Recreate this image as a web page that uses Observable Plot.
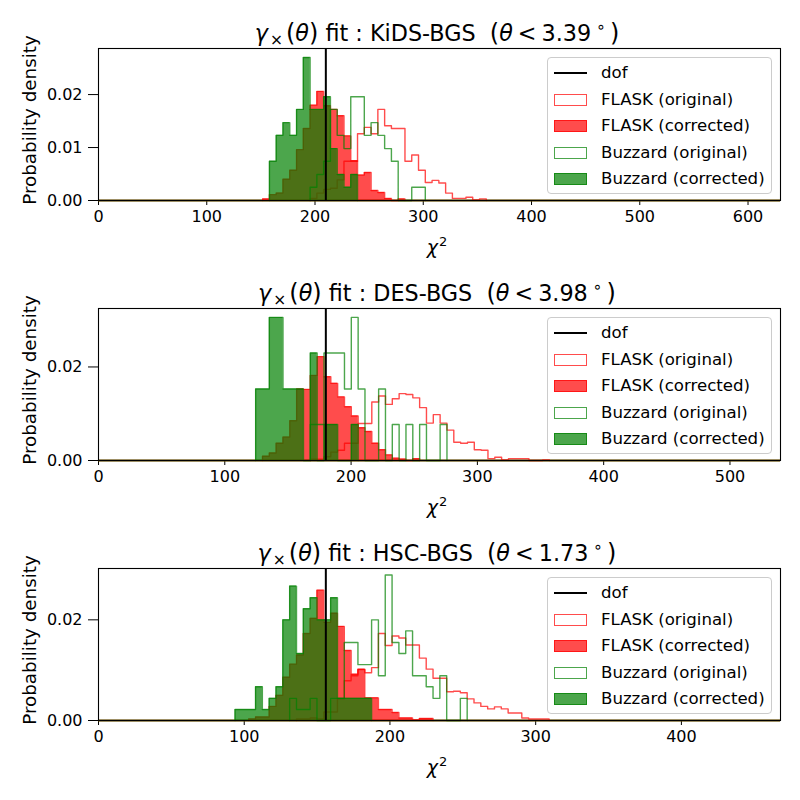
<!DOCTYPE html>
<html><head><meta charset="utf-8">
<script src="https://cdn.jsdelivr.net/npm/d3@7"></script>
<script src="https://cdn.jsdelivr.net/npm/@observablehq/plot@0.6"></script>
<style>
body{margin:0;background:#fff;font-family:"DejaVu Sans",sans-serif;}
#fig{position:relative;width:800px;height:800px;overflow:hidden;}
.panel{position:absolute;left:0;width:800px;height:260px;}
.panel svg{position:absolute;left:0;top:0;}
.title{position:absolute;left:96px;width:682px;top:20px;text-align:center;font-size:22.3px;line-height:26px;white-space:pre;color:#000;}
.m{font-style:italic;}
.p{font-size:24px;}
.sub{font-size:15.5px;position:relative;top:4px;margin-left:2px;margin-right:3px;}
.sup{font-size:15.5px;position:relative;top:-9px;margin-left:5px;margin-right:4px;}
.rel{margin:0 5px;}
.xlabel{position:absolute;left:96px;width:682px;top:236px;text-align:center;font-size:19px;line-height:22px;}
.xlabel .sup2{font-size:13px;position:relative;top:-8px;margin-left:1px;}
.ylabel{position:absolute;left:29px;top:120px;font-size:18.3px;white-space:nowrap;transform:translate(-50%,-50%) rotate(-90deg);}
.legend{position:absolute;left:547px;top:57px;width:225px;height:137px;border:1px solid #cccccc;border-radius:4px;background:rgba(255,255,255,0.8);box-sizing:border-box;}
.li{position:absolute;left:0;height:20px;width:223px;}
.li .h{position:absolute;left:6px;width:33px;}
.li .t{position:absolute;left:53px;top:0;font-size:16.6px;line-height:20px;white-space:nowrap;}
</style></head><body><div id="fig"></div>
<script>
// ---------- data ----------
const datasets = ["KiDS-BGS", "DES-BGS", "HSC-BGS"];
const thetaMax = ["3.39", "3.98", "1.73"];
const dof = [210, 180, 156];
const xMax = [630, 540, 468];
const yMax = [0.0287, 0.0325, 0.0302];
const xTicks = [[0,100,200,300,400,500,600],[0,100,200,300,400,500],[0,100,200,300,400]];
const yTicks = [[0,0.01,0.02],[0,0.02],[0,0.02]];
const binOrigin = [1.4, 0, 0];
const binWidth = [6.26, 5.41, 4.685];
const legendLabels = ["dof","FLASK (original)","FLASK (corrected)","Buzzard (original)","Buzzard (corrected)"];

// KiDS-BGS (first bin index, densities)
const kidsFlaskOrigStart = 31;
const kidsFlaskOrig = [0.0004,0.0014,0.0021,0.0023,0.0039,0.0074,0.0074,0.0126,0.0138,0.0126,0.0172,0.0141,0.0136,0.0136,0.0074,0.0086,0.0057,0.0034,0.0038,0.0033,0.0014,0.0004,0.0004,0.0006,0.0001,0.0003];
const kidsFlaskCorrStart = 24;
const kidsFlaskCorr = [0.0003,0.0011,0.0014,0.0040,0.0057,0.0096,0.0136,0.0180,0.0206,0.0179,0.0172,0.0160,0.0122,0.0075,0.0048,0.0053,0.0019,0.0015,0.0004,0,0.0003];
const kidsBuzzOrigStart = 31;
const kidsBuzzOrig = [0.0025,0.0049,0.0074,0.0172,0.0123,0.0098,0.0196,0.0196,0.0123,0.0147,0.0123,0.0098,0.0074,0,0,0.0025,0.0025];
const kidsBuzzCorrStart = 25;
const kidsBuzzCorr = [0.0074,0.0123,0.0147,0.0123,0.0172,0.0270,0.0172,0.0172,0.0196,0.0098,0.0049,0.0025,0.0049];

// DES-BGS
const desFlaskOrigStart = 31;
const desFlaskOrig = [0.0003,0.0003,0.0008,0.0018,0.0022,0.0037,0.0037,0.0079,0.0079,0.0125,0.0138,0.0120,0.0132,0.0143,0.0141,0.0134,0.0113,0.0080,0.0098,0.0080,0.0065,0.0039,0.0037,0.0039,0.0023,0.0022,0.0004,0.0007,0.0001,0.0004,0.0004,0.0004,0,0,0.0001];
const desFlaskCorrStart = 24;
const desFlaskCorr = [0.0009,0.0016,0.0037,0.0050,0.0085,0.0153,0.0152,0.0182,0.0222,0.0179,0.0165,0.0136,0.0115,0.0095,0.0070,0.0062,0.0037,0.0023,0.0012,0.0005,0.0003,0,0.0004];
const desBuzzOrigStart = 31;
const desBuzzOrig = [0.0077,0.0077,0.0230,0.0230,0.0230,0.0153,0.0306,0.0153,0,0,0.0153,0,0.0077,0,0.0077,0,0.0077,0,0,0.0077];
const desBuzzCorrStart = 23;
const desBuzzCorr = [0.0153,0.0153,0.0306,0.0306,0.0153,0.0153,0.0153,0,0.0230,0,0.0077,0.0077,0,0,0.0077];

// HSC-BGS
const hscFlaskOrigStart = 29;
const hscFlaskOrig = [0.0003,0.0003,0.0005,0.0003,0.0017,0.0017,0.0043,0.0079,0.0089,0.0101,0.0095,0.0105,0.0173,0.0149,0.0168,0.0164,0.0150,0.0150,0.0124,0.0102,0.0084,0.0084,0.0057,0.0058,0.0055,0.0043,0.0035,0.0028,0.0023,0.0027,0.0023,0.0015,0.0015,0.0005,0.0003,0.0003,0.0003];
const hscFlaskCorrStart = 22;
const hscFlaskCorr = [0.0003,0.0007,0.0007,0.0028,0.0050,0.0086,0.0112,0.0130,0.0173,0.0203,0.0259,0.0195,0.0213,0.0187,0.0139,0.0092,0.0102,0.0045,0.0045,0.0022,0.0022,0.0016,0.0005,0.0005,0.0001,0.0004,0.0004];
const hscBuzzOrigStart = 28;
const hscBuzzOrig = [0.0044,0.0022,0.0022,0.0044,0,0,0.0044,0.0044,0.0155,0.0155,0.0111,0.0111,0.0200,0.0089,0.0289,0.0155,0.0133,0.0178,0.0089,0.0089,0.0067,0.0044,0.0089,0,0,0.0044];
const hscBuzzCorrStart = 20;
const hscBuzzCorr = [0.0022,0.0022,0.0022,0.0067,0.0022,0.0044,0.0067,0.0200,0.0267,0.0133,0.0222,0.0244,0.0200,0.0200,0.0244,0.0044,0.0044,0.0044,0.0044,0.0044];

const panels = [
  {fo:[kidsFlaskOrigStart,kidsFlaskOrig], fc:[kidsFlaskCorrStart,kidsFlaskCorr], bo:[kidsBuzzOrigStart,kidsBuzzOrig], bc:[kidsBuzzCorrStart,kidsBuzzCorr]},
  {fo:[desFlaskOrigStart,desFlaskOrig], fc:[desFlaskCorrStart,desFlaskCorr], bo:[desBuzzOrigStart,desBuzzOrig], bc:[desBuzzCorrStart,desBuzzCorr]},
  {fo:[hscFlaskOrigStart,hscFlaskOrig], fc:[hscFlaskCorrStart,hscFlaskCorr], bo:[hscBuzzOrigStart,hscBuzzOrig], bc:[hscBuzzCorrStart,hscBuzzCorr]}
];

// ---------- drawing ----------
const RED = "#ff0000", GREEN = "#008000";
function steps(origin, width, start, heights) {
  const pts = [{x: origin + start * width, y: 0}];
  heights.forEach((h, i) => pts.push({x: origin + (start + i) * width, y: h}));
  pts.push({x: origin + (start + heights.length) * width, y: 0});
  return pts;
}

const fig = document.getElementById("fig");
panels.forEach((p, i) => {
  const o = binOrigin[i], w = binWidth[i];
  const fo = steps(o, w, ...p.fo), fc = steps(o, w, ...p.fc);
  const bo = steps(o, w, ...p.bo), bc = steps(o, w, ...p.bc);
  const div = document.createElement("div");
  div.className = "panel";
  div.style.top = (i * 260) + "px";
  fig.appendChild(div);
  const svg = Plot.plot({
    width: 800, height: 260,
    marginLeft: 98, marginRight: 20, marginTop: 48, marginBottom: 60,
    style: {fontFamily: "DejaVu Sans", fontSize: "16px", background: "transparent", color: "#000", overflow: "visible"},
    x: {domain: [0, xMax[i]], ticks: xTicks[i], tickFormat: d3.format("d"), tickSize: 5, tickPadding: 5, label: null},
    y: {domain: [0, yMax[i]], ticks: yTicks[i], tickFormat: d3.format(".2f"), tickSize: 10, tickPadding: 6, label: null},
    marks: [
      Plot.ruleY([0], {stroke: RED, strokeOpacity: 0.7, strokeWidth: 2}),
      Plot.ruleY([0], {stroke: GREEN, strokeOpacity: 0.7, strokeWidth: 2}),
      Plot.line(fo, {x: "x", y: "y", curve: "step-after", stroke: RED, strokeOpacity: 0.7, strokeWidth: 1.4}),
      Plot.areaY(fc, {x: "x", y: "y", curve: "step-after", fill: RED, fillOpacity: 0.7}),
      Plot.line(fc, {x: "x", y: "y", curve: "step-after", stroke: RED, strokeOpacity: 0.7, strokeWidth: 1.4}),
      Plot.line(bo, {x: "x", y: "y", curve: "step-after", stroke: GREEN, strokeOpacity: 0.7, strokeWidth: 1.4}),
      Plot.areaY(bc, {x: "x", y: "y", curve: "step-after", fill: GREEN, fillOpacity: 0.7}),
      Plot.line(bc, {x: "x", y: "y", curve: "step-after", stroke: GREEN, strokeOpacity: 0.7, strokeWidth: 1.4}),
      Plot.ruleX([dof[i]], {stroke: "#000", strokeWidth: 2}),
      Plot.frame({stroke: "#000", strokeWidth: 1.1})
    ]
  });
  div.appendChild(svg);

  const t = document.createElement("div");
  t.className = "title";
  t.innerHTML = '<span class="m">γ</span><span class="sub">×</span><span class="p">(</span><span class="m">θ</span><span class="p">)</span> fit : ' + datasets[i] +
    '  <span class="p">(</span><span class="m">θ</span><span class="rel">&lt;</span>' + thetaMax[i] + '<span class="sup">∘</span><span class="p">)</span>';
  div.appendChild(t);

  const xl = document.createElement("div");
  xl.className = "xlabel";
  xl.innerHTML = '<span class="m">χ</span><span class="sup2">2</span>';
  div.appendChild(xl);

  const yl = document.createElement("div");
  yl.className = "ylabel";
  yl.textContent = "Probability density";
  div.appendChild(yl);

  const lg = document.createElement("div");
  lg.className = "legend";
  legendLabels.forEach((lab, j) => {
    const row = document.createElement("div");
    row.className = "li";
    row.style.top = (5 + j * 26.5) + "px";
    const h = document.createElement("div");
    h.className = "h";
    if (j === 0) { h.style.top = "9px"; h.style.height = "2px"; h.style.background = "#000"; }
    else {
      h.style.top = "4px"; h.style.height = "12px"; h.style.boxSizing = "border-box";
      const c = j < 3 ? "rgba(255,0,0,0.7)" : "rgba(0,128,0,0.7)";
      h.style.border = "1.4px solid " + c;
      h.style.background = (j === 2 || j === 4) ? c : "#fff";
    }
    const tx = document.createElement("div");
    tx.className = "t";
    tx.textContent = lab;
    row.appendChild(h); row.appendChild(tx);
    lg.appendChild(row);
  });
  div.appendChild(lg);
});
</script></body></html>
